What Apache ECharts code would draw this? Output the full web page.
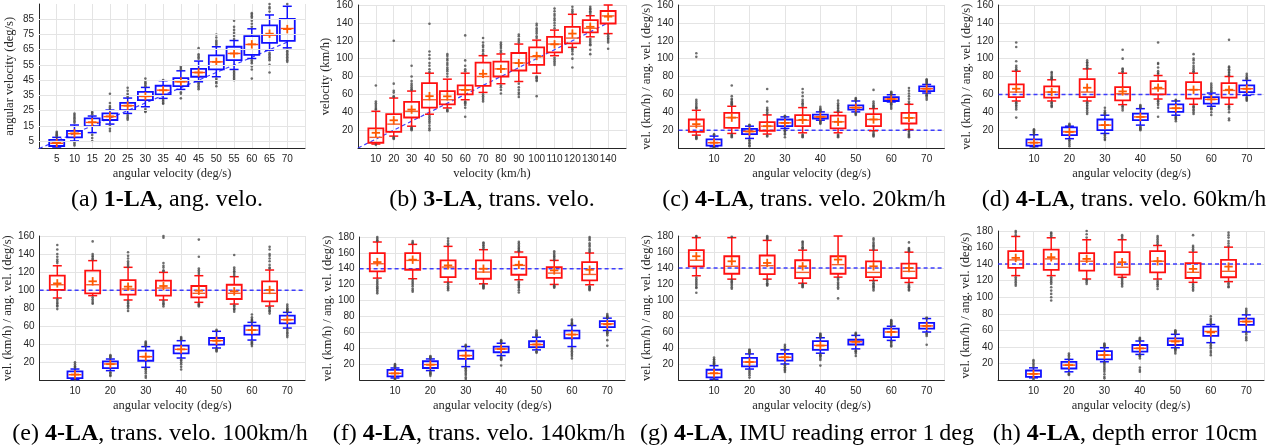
<!DOCTYPE html>
<html><head><meta charset="utf-8">
<script src="https://cdn.jsdelivr.net/npm/echarts@6/dist/echarts.min.js"></script>
<style>html,body{margin:0;padding:0;background:#fff}#c{width:1279px;height:448px}</style>
</head><body><div id="c"></div>
<script>
// ---------- DATA: box = [lowWhisker, q1, median, q3, highWhisker, mean] ----------
const A_X = [5,10,15,20,25,30,35,40,45,50,55,60,65,70];
const A_BOX = [
 [1,1.7,3.5,5.7,7.4,3.8],[5,7.4,9.8,11.6,15.5,10],[10.5,14.8,17.2,19.9,21.4,17.3],[16.1,18.8,21,23.1,25.3,21.2],
 [23.1,25.3,28.2,30.1,33.2,28.2],[27.5,31.9,34.3,37.3,40.2,34.4],[33,35.6,38.4,41.3,44.6,38.3],[38.9,41,43.9,46.3,51.1,44.1],
 [43.9,47.2,50,52.4,57.5,50],[47.2,52,57,61.2,66.9,57],[52,58.1,62.5,66.9,71,62.5],[59.2,61.6,68.4,73.9,78.7,68.5],
 [64.7,69.5,74.5,81,87.8,75.5],[66.2,70.8,78.9,85.2,93.5,78.5]];
const A_OUT = [
 [8,8.7,9.5,10.3,11],[17,18,19,20,21,22,23,4,3,2],[22.5,23.5,24,9,7,5],[26,27,28,30,36,15,13,11.5],
 [34,35,36,38,40,22,21,20,19],[41,42,43,44,46,26,25,24.5,24],[45,32,31,30,29.5],[52,53,54,37,36,33],
 [59,60,61,62,66,43,42,41,40,39],[68,69,70,71,73,75,46,45,44,43,41],[72,74,76,78,80,84,51,50,49,48,47,46,45],
 [80,82,84,86,87,88,89,58,57,56,54,52,46],[90,92,93,95,63,62,61,60,59,58,55,50],[95,65,64,63,62,61,60,59,58,57]];
const A_REF = [[0,0],[70,70]];

const B_X = [10,20,30,40,50,60,70,80,90,100,110,120,130,140];
const B_BOX = [
 [4.4,5.9,11.9,21.9,41.1,17],[13.3,18.1,26.7,37.8,55.9,31],[24.4,34.1,41.1,51.5,63.7,43],[37.8,45.2,54,72.6,83.7,58],
 [44.8,48.9,54,63.7,77,57.8],[54,60,65.2,70,83.7,65],[62.2,69.6,80,95.6,103.3,83],[71.9,80,88.5,96.7,105.2,88.5],
 [74.4,86.7,95.2,106.3,116.3,95],[83.7,93,102.2,112.6,120.7,103],[103.3,107,116.3,124.4,131.9,116],
 [112.6,117,123,135.6,149.6,128],[124.4,129.3,134,143,148,135.6],[128,139.3,147.8,153.3,160,147]];
const B_OUT = [
 [43,44,46,48,50,52,70,3.5],[57,58,62,64,72,120,12,11,10],[65,66,68,70,72,75,80,92,23,22,21,20],
 [85,88,92,95,100,104,108,139,36,34,32,30,28,25,22,20],[80,83,86,88,90,93,95,98,100,103,105,43,42,41],
 [86,88,92,98,126,52,51,50,48,45,35],[105,108,110,113,115,118,123,60,58,56,54,52],[107,109,112,114,116,118,70,68,65,61],
 [118,120,122,125,127,72,68,65,62,60,57],[123,125,128,130,132,134,137,139,80,79,78,76,75,58],
 [134,137,140,143,145,148,150,153,156,101,99,97,95,93],[151,153,155,158,111,110,108,105,100,90],
 [150,152,153,155,156,158,122,120,118,116,115,110,105],[127,125,123,122,120,118,111]];
const B_REF = [[0,0],[140,140]];

const RED_X = [5,15,25,35,45,55,65];
const BLUE_X = [10,20,30,40,50,60,70];

const C_REF = 20;
const C_RED_BOX = [[14.4,18.1,24.4,31.9,42.2,26.7],[16.3,22.6,34,39.3,46.7,34],[15.6,19.3,24.4,28.9,37,24.4],
 [17,24.4,31.1,36.7,45.2,31.5],[17,21.9,29.3,36.3,40,29.3],[19.3,24.4,31.9,37.8,44,31.9],[20.7,27.4,33.7,39.3,48.9,33.7]];
const C_RED_OUT = [[44,45,46,48,50,52,54,102,106,13,12,11,10],[48,49,50,51,52,54,55,58,70,15,14,13,12],
 [38,40,42,43,45,52,66,14,13],[47,49,50,52,54,58,62,66,15,14,13,12],[41,42,44,45,47,48,50,53,15,14,13,12],
 [45,46,47,48,50,52,65,18,16,15,14,13],[50,52,55,58,61,64,67,19,18,16,15,14,13,12]];
const C_BLUE_BOX = [[1.5,2.6,5.9,9.6,13.3,6],[10.7,15.6,18.5,21.5,24.4,18.5],[21.9,24.4,28.1,31.9,34.8,28.1],
 [31.1,33,34.8,37.4,40.4,34.8],[40.4,43,45.2,47.8,52.6,45.2],[51.5,52.6,54.8,57,59.6,54.8],[61.5,63.7,66.3,68.9,71.1,66.3]];
const C_BLUE_OUT = [[14.5,15.5,0.8,0.5],[25.5,26,9,8,6,5,3,2],[35.5,36,20,19,18,16,15,12],[41,42,43,44,46,30,29,28,27],
 [53,54,55,56,39,38,37],[60,61,62,63,50,49,48,46,44],[72,73,74,75,76,77,60,59,58,56,54]];

const D_REF = 60;
const D_RED_BOX = [[52.6,57,62.6,71.1,85.9,66.3],[52.6,56.3,62.6,68.9,76.3,62.6],[52.6,57,62.6,77,88.5,67.4],
 [48.5,53.3,60.7,68.1,83.7,63.3],[54.8,60,66.3,74.8,81.1,67.5],[48.9,55.2,65.2,73.7,83.7,65.2],[48.9,56.3,64.4,72.6,80,65.2]];
const D_RED_OUT = [[87,88,90,92,97,113,118,51,50,48,47,45,43,34],[77,78,79,80,82,84,85,51,50,48,47,46],
 [89,90,92,93,95,96,98,51,50,48,47,45,44,42,40,38],[85,86,88,89,100,110,47,46,44,42],
 [83,84,86,90,94,95,118,53,52,50,48,45,35],[85,86,88,90,92,95,98,100,105,47,46,45,43,42,40,38],
 [81,82,84,85,87,88,90,91,121,47,46,45,43,40,33,31]];
const D_BLUE_BOX = [[1.5,2.6,6,9.6,14.8,6],[10.4,14.4,18.1,23,24.4,18],[16.3,20,25.6,31.9,36.7,25.6],
 [25.6,31.1,34.8,38.5,44,34.8],[36.7,40.4,44.5,48.9,52.6,44.5],[46.7,49.6,54.4,57,61.5,54.4],[58.9,62.6,66.3,70,75.6,66.3]];
const D_BLUE_OUT = [[15.5,17,18,19,20,21,0.8],[25,26,27,9,8,6,4,2],[37.5,39,40,42,45,15,14,12,10,9],
 [45,46,47,48,24,23,22,21,20],[53,54,35,34,33,32,30],[63,64,66,68,70,72,45,44,43,40,37],[77,78,79,81,83,57,56,55,54,53]];

const E_REF = 100;
const E_RED_BOX = [[91.3,100.2,106,116,127,107.5],[93.9,96.5,106,121.6,132.7,109.8],[89.1,95,101.3,111.2,125.3,103.9],
 [89.1,93.9,102.4,110.5,119.7,104.6],[86.5,92,96.5,104.6,116,99.4],[84.6,90.2,96.5,106,114.9,98.7],[82.4,87.6,96.5,109.8,122.3,100.2]];
const E_RED_OUT = [[130,132,134,137,140,145,150,90,88,86,85,83,82,79],[134,135,137,138,140,154,92,90,88,86,85],
 [126,128,130,132,135,138,142,88,86,85,83,82,80,77],[121,122,125,127,130,158,160,88,86,85,84,82],
 [118,120,122,124,137,156,85,84,83,82],[116,118,120,121,123,125,139,83,82,80,79,78,76],
 [124,125,128,132,135,138,140,145,148,81,80,78,77,76,74]];
const E_BLUE_BOX = [[1,2.6,6.3,10,12.6,6.5],[10.8,13.7,18.2,21.1,23.7,18],[14.5,21.8,26.3,32.9,37.4,26.3],
 [24.8,30,34.4,38.5,44,34.4],[35.9,39.6,44,47,54.4,44],[44.7,50.7,55.8,60.6,64.3,55.8],[58,63.2,67.3,71.7,75.4,67.3]];
const E_BLUE_OUT = [[14,15,16,18,20,0.5],[25,26,27,28,9,8,6,5],[38,39,40,41,42,43,13,12,10,8,5,3],
 [45,46,47,48,23,22,20,18,15,12],[55,56,35,34,33,32],[65,66,67,68,70,73,43,42,41,40,38],[76,77,78,79,80,82,84,57,55,53,52,50,48]];

const F_REF = 140;
const F_RED_BOX = [[128.2,136.6,146.3,159.8,173.7,148.4],[127.4,138.7,150.5,159.8,170.7,151.4],[123.2,129.5,142.1,150.5,168.2,144.2],
 [121,127.4,135.8,150.5,164,140],[126.1,132.4,144.2,154.7,161.1,145],[120.2,128.6,134.5,142.1,150.5,137.9],[119.8,125.3,132.8,148.4,159.8,138.7]];
const F_RED_OUT = [[175,176,178,180,126,124,122,120,118,116,115,113,111,109],[172,173,175,126,124,122,120,118,115,113,111],
 [170,172,175,178,122,120,118,116,115,113],[165,167,169,170,172,173,120,119,118,117,116,115],
 [162,163,165,166,168,170,172,174,124,122,120,119,117,116,113,110],[151,153,155,156,158,160,162,119,118,117,116],
 [161,163,165,168,170,172,176,178,180,118,117,116,115,114,113]];
const F_BLUE_BOX = [[2.3,4.4,8.2,12.4,14.9,8],[11.6,14.9,19.2,23.4,26.3,19],[16.6,26.3,30.5,36.8,41.9,30.5],
 [30.5,34.7,38.9,41.9,46.1,38.9],[37.7,41.1,44.4,48.6,53.7,44.6],[41.9,52.4,57.1,62.1,68.4,57],[62.1,66.3,70.5,73.9,77.7,70]];
const F_BLUE_OUT = [[16,17,18,19,20,1,0.5],[27,28,29,30,10,9,8,7,5],[42,43,44,15,14,12,10,8,6,3,1],
 [47,48,49,50,29,28,27,26,25,18],[55,56,57,58,60,62,36,35,34],[69,70,71,72,74,76,40,38,36,34,32,30,27],
 [78,79,80,81,83,61,60,59,58,56,50,43]];

const G_REF = 140;
const G_RED_BOX = [[130.3,142.1,149.7,162.3,177.9,154.7],[126.1,132.8,142.1,154.7,177.9,148.4],[126.1,132.4,142.9,155.6,174.5,146.3],
 [121,127.4,134.5,149.7,162.3,142.1],[128.6,132.8,144.2,154.7,180,150.5],[124.4,128.6,134.5,148.4,162.3,142.1],[121.9,127.4,135.8,145.5,159.8,140]];
const G_RED_OUT = [[179,180,128,126,124,122,120,118,116,115,109],[179,125,123,122,120,118,116,114],
 [176,177,178,179,180,125,123,121,120,119,118],[164,165,166,168,170,172,173,120,119,118,117,116],
 [127,125,122,120,118,116,114,102],[163,165,167,168,170,172,175,177,123,121,120,118,117,116,114,112],
 [161,162,163,164,165,172,120,118,117,116,115,113,112]];
const G_BLUE_BOX = [[1,3.2,8.2,12.8,17.9,8.5],[13.7,17.1,22.5,27.6,32.6,22.5],[20,24.2,28.4,32.6,37.7,28.4],
 [33.5,37.7,43.2,48.6,52.8,43],[38.9,44.4,47.8,50.3,55.8,47.8],[49.5,53.7,60,64.2,67.2,60],[60,64.2,67.6,71.4,76.8,67.6]];
const G_BLUE_OUT = [[19,20,21,22,23,25,26,28,0.5],[33,34,35,36,37,38,12,10,8,6,3],[38,40,42,44,19,18,16,15,13,12,10],
 [53,54,55,56,57,58,32,31,30,29,27,25,18],[56,57,58,59,37,36,35,33,30],[68,69,70,71,72,73,74,75,48,47,45,43,42],
 [77,78,58,57,55,44]];

const H_REF = 140;
const H_RED_BOX = [[126.1,135.4,145.1,155.6,173.4,147.5],[126.1,133,146.3,157.6,171.8,148.3],[122,132.1,143.5,153.2,169.4,146.3],
 [124.1,127.3,136.2,154.4,169.4,142.3],[122,130.1,143.5,155.6,162.5,143.5],[118,123.2,130.1,141.1,154.4,134.2],[118.8,124.1,131.3,145.1,160.5,137]];
const H_RED_OUT = [[175,178,180,124,122,120,118,116,114],[173,175,177,178,124,122,120,118,116,112,108,104,100,96],
 [172,176,180,121,120,118,116],[171,173,175,123,121,119,117,115,113],[164,166,168,170,172,174,120,118,116,115,113,110],
 [156,158,160,162,175,116,114,112,110,108],[162,165,168,172,175,178,117,115,113,112]];
const H_BLUE_BOX = [[2.6,3.8,7.4,11.5,14.7,7.4],[9.9,13.9,18,22,24.9,18],[22,24.9,30.1,35,39,30.1],
 [30.9,34.2,38.2,42.3,47.1,38.2],[39,42.3,47.1,50.4,55.2,46.5],[45.1,53.2,58.5,64.5,67,57.5],[58.1,66.6,70.6,74.2,78.7,70.6]];
const H_BLUE_OUT = [[16,18,20,22,24,1],[26,28,30,32,8,7,6],[40,41,42,43,44,21,20,18,16,14,12,10,7,4,2],
 [48,49,50,51,30,29,28,26,15,12,10],[56,57,58,59,60,38,37,36,34,32],[68,70,72,74,77,44,42,40,38,35,33,30],
 [80,82,84,86,57,55,52,50,48]];

const A_TICKS_Y = [5,15,25,35,45,55,65,75,85];

// ---------- LAYOUT ----------
const RED = '#ff1010', BLUE = '#1010ff', MED_R = '#f5602a', MED_B = '#ff4a1a', MEAN = '#ff5a00';
const GRID_C = '#e4e4e4', AX_C = '#262626';
const SANS = 'Liberation Sans', SERIF = 'Liberation Serif';
const VEL = 'vel. (km/h) / ang. vel. (deg/s)', ANG = 'angular velocity (deg/s)';
const PANELS = [
 {grid:{left:39,top:4,width:266,height:144.6}, xMax:75, xInt:5, yMax:95, yInt:5, xName:ANG, yName:ANG, aTicks:true},
 {grid:{left:358,top:4,width:268,height:144}, xMax:150, xInt:10, yMax:160, yInt:20, xName:'velocity (km/h)', yName:'velocity (km/h)'},
 {grid:{left:678.6,top:4,width:265.8,height:144}, xMax:75, xInt:10, yMax:160, yInt:20, xName:ANG, yName:VEL},
 {grid:{left:998.5,top:4,width:266,height:144}, xMax:75, xInt:10, yMax:160, yInt:20, xName:ANG, yName:VEL},
 {grid:{left:39.6,top:236,width:265.4,height:144.4}, xMax:75, xInt:10, yMax:160, yInt:20, xName:ANG, yName:VEL},
 {grid:{left:359.6,top:237,width:265.4,height:142.8}, xMax:75, xInt:10, yMax:180, yInt:20, xName:ANG, yName:VEL},
 {grid:{left:678.6,top:236,width:265.8,height:144}, xMax:75, xInt:10, yMax:180, yInt:20, xName:ANG, yName:VEL},
 {grid:{left:998,top:231,width:266,height:149}, xMax:75, xInt:10, yMax:180, yInt:20, xName:ANG, yName:VEL}
];

function boxRender(stroke, med) {
  return function (params, api) {
    const x = api.value(0);
    const lo = api.coord([x, api.value(1)]), q1 = api.coord([x, api.value(2)]), md = api.coord([x, api.value(3)]);
    const q3 = api.coord([x, api.value(4)]), hi = api.coord([x, api.value(5)]), mn = api.coord([x, api.value(6)]);
    const cx = lo[0], hw = 7.5, cw = 4.5, ms = 4.2;
    const ls = {stroke: stroke, lineWidth: 1.5};
    return {type: 'group', children: [
      {type:'line', shape:{x1:cx,y1:q3[1],x2:cx,y2:hi[1]}, style:ls},
      {type:'line', shape:{x1:cx,y1:q1[1],x2:cx,y2:lo[1]}, style:ls},
      {type:'line', shape:{x1:cx-cw,y1:hi[1],x2:cx+cw,y2:hi[1]}, style:ls},
      {type:'line', shape:{x1:cx-cw,y1:lo[1],x2:cx+cw,y2:lo[1]}, style:ls},
      {type:'rect', shape:{x:cx-hw,y:q3[1],width:2*hw,height:q1[1]-q3[1]}, style:{fill:'none',stroke:stroke,lineWidth:1.8}},
      {type:'line', shape:{x1:cx-hw+1,y1:md[1],x2:cx+hw-1,y2:md[1]}, style:{stroke:med,lineWidth:1.4}},
      {type:'line', shape:{x1:cx-ms,y1:mn[1],x2:cx+ms,y2:mn[1]}, style:{stroke:MEAN,lineWidth:1.8}},
      {type:'line', shape:{x1:cx,y1:mn[1]-ms,x2:cx,y2:mn[1]+ms}, style:{stroke:MEAN,lineWidth:1.8}}
    ]};
  };
}
function boxData(xs, boxes) { return xs.map((x, i) => [x].concat(boxes[i])); }
function outData(xs, outs) { const r = []; xs.forEach((x, i) => outs[i].forEach(v => r.push([x, v]))); return r; }

const grids = [], xAxes = [], yAxes = [], series = [];
PANELS.forEach((p, i) => {
  grids.push(Object.assign({containLabel:false}, p.grid));
  xAxes.push({type:'value', gridIndex:i, min:0, max:p.xMax, interval:p.xInt,
    name:p.xName, nameLocation:'middle', nameGap:19,
    nameTextStyle:{fontFamily:SERIF, fontSize:12.5, color:AX_C},
    axisLine:{show:true, onZero:false, lineStyle:{color:AX_C, width:1}}, axisTick:{show:false},
    splitLine:{show:true, lineStyle:{color:GRID_C, width:1}},
    axisLabel:{margin:6, fontFamily:SANS, fontSize:10, color:AX_C, showMinLabel:true, showMaxLabel:true,
      formatter: v => (v <= 0 || v >= p.xMax) ? '' : String(v)}});
  yAxes.push({type:'value', gridIndex:i, min:0, max:p.yMax, interval:p.yInt,
    name:p.yName, nameLocation:'middle', nameGap:23,
    nameTextStyle:{fontFamily:SERIF, fontSize:12.5, color:AX_C},
    axisLine:{show:true, onZero:false, lineStyle:{color:AX_C, width:1}}, axisTick:{show:false},
    splitLine:{show:!p.aTicks, lineStyle:{color:GRID_C, width:1}},
    axisLabel:{margin:5, fontFamily:SANS, fontSize:10, color:AX_C,
      formatter: p.aTicks ? (v => A_TICKS_Y.indexOf(v) >= 0 ? String(v) : '') : (v => v <= 0 ? '' : String(v))}});
});

// (a) horizontal grid lines at the labelled ticks
series.push({type:'line', xAxisIndex:0, yAxisIndex:0, data:[], silent:true, z:1,
  markLine:{silent:true, symbol:'none', label:{show:false}, animation:false,
    lineStyle:{color:GRID_C, type:'solid', width:1}, data:A_TICKS_Y.map(v => ({yAxis:v}))}});

function refLine(i, data, width) {
  series.push({type:'line', xAxisIndex:i, yAxisIndex:i, data:data, symbol:'none', silent:true, z:2,
    lineStyle:{color:'#2a2aff', width:width, type:[4,3], opacity:0.9}});
}
function boxes(i, xs, bx, color, med) {
  series.push({type:'custom', xAxisIndex:i, yAxisIndex:i, data:boxData(xs, bx), renderItem:boxRender(color, med),
    encode:{x:0, y:[1,2,3,4,5]}, z:3, silent:true});
}
function outs(i, data) {
  series.push({type:'scatter', xAxisIndex:i, yAxisIndex:i, data:data, symbol:'circle', symbolSize:2.6,
    itemStyle:{color:'#4a4a4a'}, z:4, silent:true});
}

refLine(0, A_REF, 1.2); boxes(0, A_X, A_BOX, BLUE, MED_B); outs(0, outData(A_X, A_OUT));
refLine(1, B_REF, 1.2); boxes(1, B_X, B_BOX, RED, MED_R); outs(1, outData(B_X, B_OUT));
const P4 = [
  [C_REF, C_RED_BOX, C_RED_OUT, C_BLUE_BOX, C_BLUE_OUT],
  [D_REF, D_RED_BOX, D_RED_OUT, D_BLUE_BOX, D_BLUE_OUT],
  [E_REF, E_RED_BOX, E_RED_OUT, E_BLUE_BOX, E_BLUE_OUT],
  [F_REF, F_RED_BOX, F_RED_OUT, F_BLUE_BOX, F_BLUE_OUT],
  [G_REF, G_RED_BOX, G_RED_OUT, G_BLUE_BOX, G_BLUE_OUT],
  [H_REF, H_RED_BOX, H_RED_OUT, H_BLUE_BOX, H_BLUE_OUT]
];
P4.forEach((d, k) => {
  const i = k + 2;
  refLine(i, [[0, d[0]], [75, d[0]]], 1.5);
  boxes(i, RED_X, d[1], RED, MED_R);
  boxes(i, BLUE_X, d[3], BLUE, MED_B);
  outs(i, outData(RED_X, d[2]).concat(outData(BLUE_X, d[4])));
});

// ---------- CAPTIONS ----------
const CAPS = [
  ['(a) ', '1-LA', ', ang. velo.', 167, 200],
  ['(b) ', '3-LA', ', trans. velo.', 492, 200],
  ['(c) ', '4-LA', ', trans. velo. 20km/h', 804, 200],
  ['(d) ', '4-LA', ', trans. velo. 60km/h', 1124, 200],
  ['(e) ', '4-LA', ', trans. velo. 100km/h', 160, 434],
  ['(f) ', '4-LA', ', trans. velo. 140km/h', 479, 434],
  ['(g) ', '4-LA', ', IMU reading error 1\u2009deg', 807, 434],
  ['(h) ', '4-LA', ', depth error 10cm', 1125, 434]
];
const graphics = CAPS.map(c => ({type:'text', x:c[3], y:c[4], silent:true, style:{
  text:'{n|' + c[0] + '}{b|' + c[1] + '}{n|' + c[2] + '}', align:'center', verticalAlign:'middle',
  rich:{n:{fontFamily:SERIF, fontSize:24, fill:'#000'}, b:{fontFamily:SERIF, fontSize:24, fontWeight:'bold', fill:'#000'}}}}));

const chart = echarts.init(document.getElementById('c'), null, {renderer:'canvas'});
chart.setOption({animation:false, backgroundColor:'#fff', grid:grids, xAxis:xAxes, yAxis:yAxes, series:series, graphic:graphics});
</script></body></html>
